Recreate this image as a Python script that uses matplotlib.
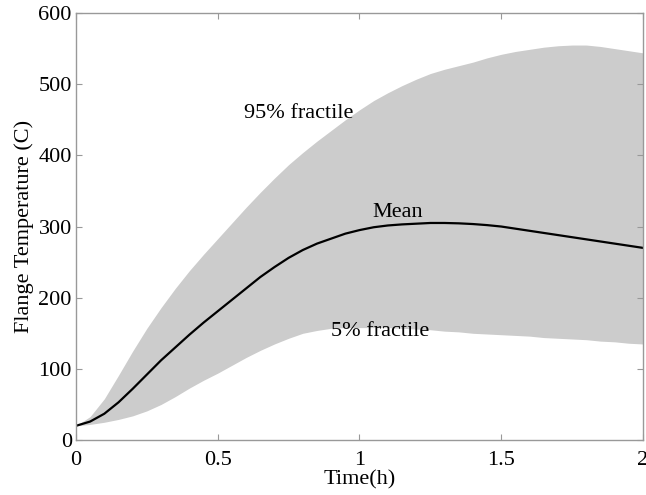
import matplotlib
matplotlib.use("Agg")
import matplotlib.pyplot as plt

plt.rcParams["font.family"] = ["Liberation Serif", "DejaVu Serif"]

# time (h), every 0.05 h
t = [0, 0.05, 0.1, 0.15, 0.2, 0.25, 0.3, 0.35, 0.4, 0.45, 0.5, 0.55, 0.6, 0.65,
     0.7, 0.75, 0.8, 0.85, 0.9, 0.95, 1.0, 1.05, 1.1, 1.15, 1.2, 1.25, 1.3,
     1.35, 1.4, 1.45, 1.5, 1.55, 1.6, 1.65, 1.7, 1.75, 1.8, 1.85, 1.9, 1.95, 2.0]
mean = [20, 26, 37, 53, 72, 92, 112, 130, 148, 165, 181, 197, 213, 229,
        243, 256, 267, 276, 283, 290, 295, 299, 301.5, 303, 304, 305, 305,
        304.5, 303.5, 302, 300, 297, 294, 291, 288, 285, 282, 279, 276, 273, 270]
upper = [20, 33, 58, 91, 125, 157, 186, 213, 238, 261, 283, 305, 327, 348,
         368, 387, 404, 420, 435, 450, 464, 477, 488, 498, 507, 515, 521,
         526, 531, 537, 542, 546, 549, 552, 554, 555, 555, 553, 550, 547, 544]
lower = [20, 22, 25, 29, 34, 41, 50, 61, 73, 84, 94, 105, 116, 126,
         135, 143, 150, 154, 157, 158, 158, 158, 158, 157, 156, 155, 153,
         152, 150, 149, 148, 147, 146, 144, 143, 142, 141, 139, 138, 136, 135]

FS = 16
GRAY = "#999999"

fig = plt.figure(figsize=(6.46, 4.95), dpi=100)
ax = fig.add_axes([0.1176, 0.111, 0.8778, 0.8627])

ax.fill_between(t, lower, upper, color="#cccccc", lw=0)
ax.plot(t, mean, color="black", lw=1.6)

ax.text(0.787, 459, "95% fractile", fontsize=FS, ha="center", va="center")
ax.text(1.133, 320, "Mean", fontsize=FS, ha="center", va="center")
ax.text(1.073, 152, "5% fractile", fontsize=FS, ha="center", va="center")

ax.set_xlim(0, 2)
ax.set_ylim(0, 600)
ax.set_xticks([0, 0.5, 1, 1.5, 2])
ax.set_xticklabels(["0", "0.5", "1", "1.5", "2"])
ax.set_yticks(range(0, 601, 100))
ax.tick_params(direction="in", top=True, right=True, color=GRAY,
               length=4, width=0.8, labelsize=FS)
ax.tick_params(axis="x", pad=8)
ax.tick_params(axis="y", pad=3)
for s in ax.spines.values():
    s.set_color(GRAY)
    s.set_linewidth(1.0)

ax.set_xlabel("Time(h)", fontsize=FS, labelpad=0)
ax.set_ylabel("Flange Temperature (C)", fontsize=FS, labelpad=3)

fig.savefig("out.png", dpi=100)
